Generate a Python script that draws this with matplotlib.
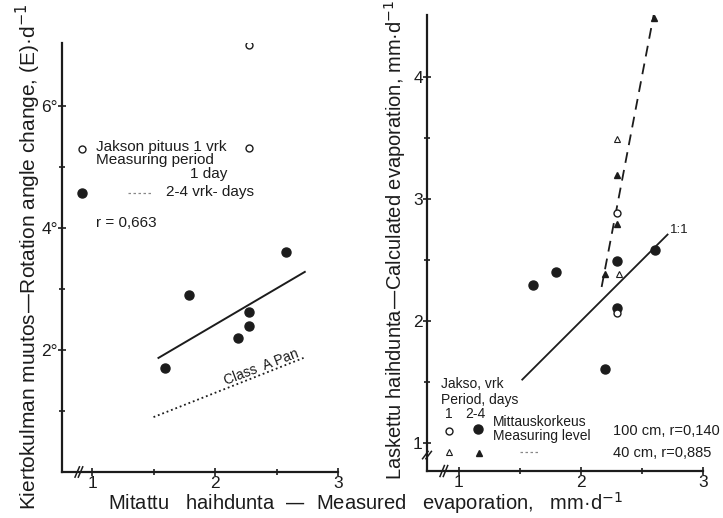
import matplotlib
matplotlib.use("Agg")
import matplotlib.pyplot as plt
from matplotlib.ticker import FixedLocator

plt.rcParams["font.family"] = ["Liberation Sans", "DejaVu Sans"]

INK = "#1c1c1c"

# left panel: rotation angle change vs measured evaporation
left_open_x = [2.28, 2.28]
left_open_y = [7.0, 5.31]
left_fill_x = [1.59, 1.79, 2.19, 2.28, 2.28, 2.58]
left_fill_y = [1.70, 2.90, 2.20, 2.39, 2.62, 3.60]
left_fit_x = [1.54, 2.73]
left_fit_y = [1.87, 3.28]
pan_x = [1.50, 2.72]
pan_y = [0.90, 1.87]

# right panel: calculated vs measured evaporation
r_open_circ_x = [2.30, 2.30]
r_open_circ_y = [2.89, 2.07]
r_fill_circ_x = [1.61, 1.80, 2.20, 2.30, 2.30, 2.61]
r_fill_circ_y = [2.30, 2.40, 1.61, 2.49, 2.11, 2.58]
r_open_tri_x = [2.30, 2.31]
r_open_tri_y = [3.49, 2.39]
r_fill_tri_x = [2.30, 2.30, 2.20, 2.60]
r_fill_tri_y = [3.20, 2.80, 2.39, 4.49]
r_fit40_x = [2.17, 2.60]
r_fit40_y = [2.28, 4.53]
one_to_one = [1.52, 2.71]

x_ticks = [1, 2, 3]
x_minor = [1.5, 2.5]
left_y_ticks = [2, 4, 6]
left_y_labels = ["2°", "4°", "6°"]
left_y_minor = [1, 3, 5]
right_y_ticks = [1, 2, 3, 4]
right_y_minor = [1.5, 2.5, 3.5]


def style_axis(ax):
    for s in ("top", "right"):
        ax.spines[s].set_visible(False)
    for s in ("left", "bottom"):
        ax.spines[s].set_linewidth(1.6)
        ax.spines[s].set_color(INK)
    ax.tick_params(which="major", direction="inout", length=6, width=1.2,
                   labelsize=12.5, colors=INK, pad=0)
    ax.tick_params(which="minor", direction="inout", length=5, width=1.2, colors=INK)
    ax.set_xticks(x_ticks)
    ax.xaxis.set_minor_locator(FixedLocator(x_minor))
    ax.patch.set_alpha(0)


def break_mark(ax, x, y, dx, dy):
    # little "//" axis break drawn in axes fraction
    for off in (0.0, 0.012):
        ax.plot([x + off - dx, x + off + dx], [y - dy, y + dy], color=INK,
                lw=1.1, transform=ax.transAxes, clip_on=False)


fig = plt.figure(figsize=(7.23, 5.18), dpi=100)

# ---------------- left panel ----------------
ax1 = fig.add_axes([0.0858, 0.0888, 0.3817, 0.828])
style_axis(ax1)
ax1.set_xlim(0.756, 3.0)
ax1.set_ylim(0, 7.03)
ax1.set_yticks(left_y_ticks)
ax1.set_yticklabels(left_y_labels)
ax1.yaxis.set_minor_locator(FixedLocator(left_y_minor))

ax1.plot(left_fit_x, left_fit_y, color=INK, lw=1.4)
ax1.plot(pan_x, pan_y, color=INK, lw=1.3, ls=(0, (1, 1.6)))
ax1.plot(left_fill_x, left_fill_y, "o", color=INK, ms=6.5)
ax1.plot(left_open_x, left_open_y, "o", mfc="white", mec=INK, mew=1.0, ms=5)
ax1.text(2.38, 1.72, "Class  A Pan", rotation=21, fontsize=10, color=INK,
         ha="center", va="center")
break_mark(ax1, 0.055, 0.0, 0.008, 0.012)

# legend, left
ax1.plot([0.92], [5.30], "o", mfc="white", mec=INK, mew=1.0, ms=5)
ax1.text(1.03, 5.33, "Jakson pituus 1 vrk", fontsize=11, color=INK, va="center")
ax1.text(1.03, 5.11, "Measuring period", fontsize=11, color=INK, va="center")
ax1.text(1.80, 4.89, "1 day", fontsize=11, color=INK, va="center")
ax1.plot([0.92], [4.57], "o", color=INK, ms=6.5)
ax1.plot([1.29, 1.49], [4.57, 4.57], color="#888888", lw=0.9, ls=(0, (2, 2)))
ax1.text(1.60, 4.59, "2-4 vrk- days", fontsize=11, color=INK, va="center")
ax1.text(1.03, 4.08, "r = 0,663", fontsize=11, color=INK, va="center")

# ---------------- right panel ----------------
ax2 = fig.add_axes([0.5906, 0.0907, 0.3817, 0.880])
style_axis(ax2)
ax2.set_xlim(0.74, 3.0)
ax2.set_ylim(0.77, 4.51)
ax2.set_yticks(right_y_ticks)
ax2.yaxis.set_minor_locator(FixedLocator(right_y_minor))

ax2.plot(one_to_one, one_to_one, color=INK, lw=1.3)
ax2.plot(r_fit40_x, r_fit40_y, color=INK, lw=1.3, ls=(0, (6, 4)))
ax2.plot(r_fill_circ_x, r_fill_circ_y, "o", color=INK, ms=6.5)
ax2.plot(r_open_circ_x, r_open_circ_y, "o", mfc="white", mec=INK, mew=1.0, ms=5)
ax2.plot(r_fill_tri_x, r_fill_tri_y, "^", color=INK, ms=4.5)
ax2.plot(r_open_tri_x, r_open_tri_y, "^", mfc="white", mec=INK, mew=0.8, ms=4)
ax2.text(one_to_one[1] + 0.02, one_to_one[1] + 0.04, "1:1", fontsize=9.5,
         color=INK, va="center")
break_mark(ax2, 0.055, 0.0, 0.008, 0.012)
break_mark(ax2, -0.006, 0.035, 0.010, 0.008)

# legend, right
ax2.text(0.855, 1.48, "Jakso, vrk", fontsize=10, color=INK, va="center")
ax2.text(0.855, 1.355, "Period, days", fontsize=10, color=INK, va="center")
ax2.text(0.918, 1.235, "1", fontsize=10, color=INK, va="center", ha="center")
ax2.text(1.139, 1.235, "2-4", fontsize=10, color=INK, va="center", ha="center")
ax2.plot([0.918], [1.098], "o", mfc="white", mec=INK, mew=1.0, ms=5)
ax2.plot([1.156], [1.115], "o", color=INK, ms=6.5)
ax2.text(1.279, 1.17, "Mittauskorkeus", fontsize=10, color=INK, va="center")
ax2.text(1.279, 1.06, "Measuring level", fontsize=10, color=INK, va="center")
ax2.text(2.26, 1.098, "100 cm, r=0,140", fontsize=10.5, color=INK, va="center")
ax2.plot([0.918], [0.926], "^", mfc="white", mec=INK, mew=0.8, ms=4)
ax2.plot([1.164], [0.918], "^", color=INK, ms=4.5)
ax2.plot([1.50, 1.66], [0.926, 0.926], color="#888888", lw=0.9, ls=(0, (2, 2)))
ax2.text(2.26, 0.918, "40 cm, r=0,885", fontsize=10.5, color=INK, va="center")

# axis titles
fig.text(0.039, 0.505, "Kiertokulman muutos\u2014Rotation angle change, (E)·d$^{-1}$",
         rotation=90, fontsize=15, color=INK, ha="center", va="center")
fig.text(0.547, 1.0, "Laskettu haihdunta\u2014Calculated evaporation, mm·d$^{-1}$",
         rotation=90, fontsize=14.5, color=INK, ha="center", va="top")
fig.text(0.505, 0.029, "Mitattu   haihdunta  \u2014  Measured   evaporation,   mm·d$^{-1}$",
         fontsize=14.5, color=INK, ha="center", va="center")

fig.savefig("out.png", dpi=100, facecolor="white")
